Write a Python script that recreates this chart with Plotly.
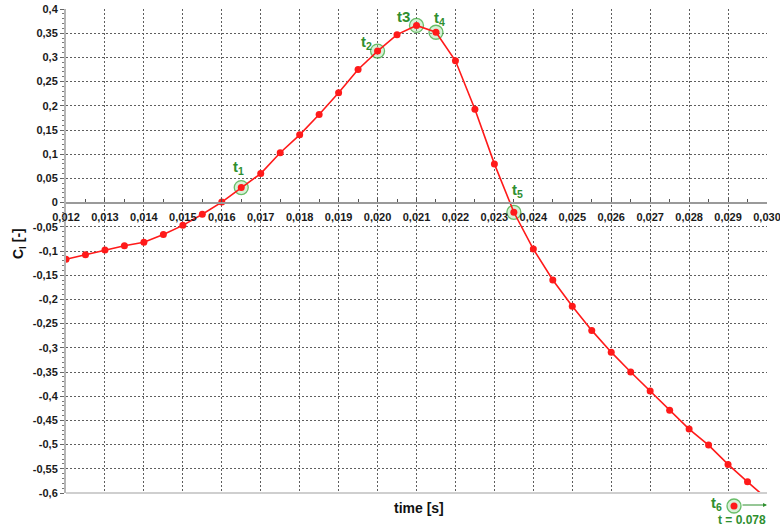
import plotly.graph_objects as go

# Lift coefficient history over one gust passage
time_s = [0.0120, 0.0125, 0.0130, 0.0135, 0.0140, 0.0145, 0.0150, 0.0155,
          0.0160, 0.0165, 0.0170, 0.0175, 0.0180, 0.0185, 0.0190, 0.0195,
          0.0200, 0.0205, 0.0210, 0.0215, 0.0220, 0.0225, 0.0230, 0.0235,
          0.0240, 0.0245, 0.0250, 0.0255, 0.0260, 0.0265, 0.0270, 0.0275,
          0.0280, 0.0285, 0.0290, 0.0295, 0.0300]
cl = [-0.117, -0.108, -0.098, -0.089, -0.082, -0.066, -0.047, -0.024,
      0.001, 0.031, 0.060, 0.103, 0.140, 0.182, 0.227, 0.275,
      0.313, 0.347, 0.366, 0.352, 0.293, 0.193, 0.080, -0.020,
      -0.096, -0.160, -0.214, -0.264, -0.309, -0.350, -0.389, -0.429,
      -0.468, -0.501, -0.541, -0.577, -0.612]

# Selected instants
key_times = [0.0165, 0.0200, 0.0210, 0.0215, 0.0235]
key_labels = ["t<sub>1</sub>", "t<sub>2</sub>", "t3", "t<sub>4</sub>", "t<sub>5</sub>"]
t6_label = "t<sub>6</sub>"
t6_note = "t = 0.078"

x_ticks = [0.012, 0.013, 0.014, 0.015, 0.016, 0.017, 0.018, 0.019, 0.020, 0.021,
           0.022, 0.023, 0.024, 0.025, 0.026, 0.027, 0.028, 0.029, 0.030]
x_tick_text = ["0,012", "0,013", "0,014", "0,015", "0,016", "0,017", "0,018", "0,019",
               "0,020", "0,021", "0,022", "0,023", "0,024", "0,025", "0,026", "0,027",
               "0,028", "0,029", "0,030"]
y_ticks = [0.4, 0.35, 0.3, 0.25, 0.2, 0.15, 0.1, 0.05, 0, -0.05, -0.1, -0.15, -0.2,
           -0.25, -0.3, -0.35, -0.4, -0.45, -0.5, -0.55, -0.6]
y_tick_text = ["0,4", "0,35", "0,3", "0,25", "0,2", "0,15", "0,1", "0,05", "0",
               "-0,05", "-0,1", "-0,15", "-0,2", "-0,25", "-0,3", "-0,35", "-0,4",
               "-0,45", "-0,5", "-0,55", "-0,6"]

GREEN = "#2f8f2f"
RED = "#ff1a1a"
FONT = "Liberation Sans"

key_cl = [cl[time_s.index(t)] for t in key_times]

fig = go.Figure()

# green halos behind the selected instants
fig.add_trace(go.Scatter(
    x=key_times, y=key_cl, mode="markers",
    marker=dict(size=14, color="rgba(140,215,140,0.35)",
                line=dict(color="rgba(60,170,60,0.75)", width=1.3)),
    hoverinfo="skip", showlegend=False))

fig.add_trace(go.Scatter(
    x=time_s, y=cl, mode="lines+markers",
    line=dict(color=RED, width=1.6),
    marker=dict(size=7, color=RED),
    showlegend=False))

# label offsets (pixels) for each selected instant
label_shift = [(-3, 20), (-11, 9), (-13, 9), (4, 14), (4, 22)]
for t, c, lab, (dx, dy) in zip(key_times, key_cl, key_labels, label_shift):
    fig.add_annotation(x=t, y=c, text="<b>" + lab + "</b>", showarrow=False,
                       xshift=dx, yshift=dy, xanchor="center", yanchor="middle",
                       font=dict(family=FONT, size=15, color=GREEN))

# plot area in pixels: x 66..767, y 9..493
def px(xp):
    return (xp - 66) / 701

def py(yp):
    return (493 - yp) / 484

# t6 marker lying beyond the time window
fig.add_shape(type="circle", xref="paper", yref="paper", xsizemode="pixel",
              ysizemode="pixel", xanchor=px(734), yanchor=py(506),
              x0=-7, x1=7, y0=-7, y1=7,
              fillcolor="rgba(140,215,140,0.35)",
              line=dict(color="rgba(60,170,60,0.75)", width=1.3))
fig.add_shape(type="circle", xref="paper", yref="paper", xsizemode="pixel",
              ysizemode="pixel", xanchor=px(734), yanchor=py(506),
              x0=-3.5, x1=3.5, y0=-3.5, y1=3.5,
              fillcolor=RED, line=dict(width=0))
fig.add_annotation(xref="paper", yref="paper", x=px(716), y=py(503),
                   text="<b>" + t6_label + "</b>", showarrow=False,
                   xanchor="center", yanchor="middle",
                   font=dict(family=FONT, size=15, color=GREEN))
fig.add_annotation(xref="paper", yref="paper", x=px(767), y=py(505),
                   ax=-26, ay=0, text="", showarrow=True, arrowhead=2,
                   arrowsize=0.8, arrowwidth=1, arrowcolor=GREEN)
fig.add_annotation(xref="paper", yref="paper", x=px(742), y=py(520),
                   text="<b>" + t6_note + "</b>", showarrow=False,
                   xanchor="center", yanchor="middle",
                   font=dict(family=FONT, size=12, color=GREEN))

# axis titles
fig.add_annotation(xref="paper", yref="paper", x=px(419), y=py(508),
                   text="<b>time [s]</b>", showarrow=False,
                   xanchor="center", yanchor="middle",
                   font=dict(family=FONT, size=14, color="#111"))
fig.add_annotation(xref="paper", yref="paper", x=px(19), y=py(244),
                   text="<b>C<sub>l</sub> [-]</b>", textangle=-90,
                   showarrow=False, xanchor="center", yanchor="middle",
                   font=dict(family=FONT, size=14, color="#111"))

# bottom frame line
fig.add_shape(type="line", xref="paper", yref="paper", x0=0, x1=1, y0=0, y1=0,
              line=dict(color="#cfcfcf", width=2))

fig.update_layout(
    width=780, height=526,
    margin=dict(l=66, r=13, t=9, b=33, autoexpand=False),
    paper_bgcolor="white", plot_bgcolor="white",
    font=dict(family=FONT, size=11, color="#1a1a1a"),
    xaxis=dict(
        range=[0.012 - 1e-7, 0.030 + 1e-7],
        tickmode="array", tickvals=x_ticks, ticktext=x_tick_text,
        tickfont=dict(family=FONT, size=11, color="#1a1a1a", weight="bold"),
        showgrid=True, gridcolor="#5e5e5e", griddash="2px,2px", gridwidth=1,
        showline=True, linecolor="#9a9a9a", linewidth=2,
        anchor="free", position=0.6, side="bottom",
        ticks="inside", ticklen=4, tickcolor="#555", tickwidth=1,
        minor=dict(dtick=0.0005, tick0=0.012, ticks="inside", ticklen=3,
                   tickcolor="#555", showgrid=False),
        ticklabelstandoff=4, ticklabeloverflow="allow",
        automargin=False, zeroline=False,
    ),
    yaxis=dict(
        range=[-0.6 - 1e-6, 0.4 + 1e-6],
        tickmode="array", tickvals=y_ticks, ticktext=y_tick_text,
        tickfont=dict(family=FONT, size=11, color="#1a1a1a", weight="bold"),
        showgrid=True, gridcolor="#5e5e5e", griddash="2px,2px", gridwidth=1,
        showline=True, linecolor="#b5b5b5", linewidth=2,
        ticks="outside", ticklen=4, tickcolor="#666", tickwidth=1,
        minor=dict(dtick=0.01, tick0=0, ticks="outside", ticklen=2,
                   tickcolor="#777", showgrid=False),
        ticklabeloverflow="allow",
        automargin=False, zeroline=False,
    ),
)

fig.write_html("out.html")
